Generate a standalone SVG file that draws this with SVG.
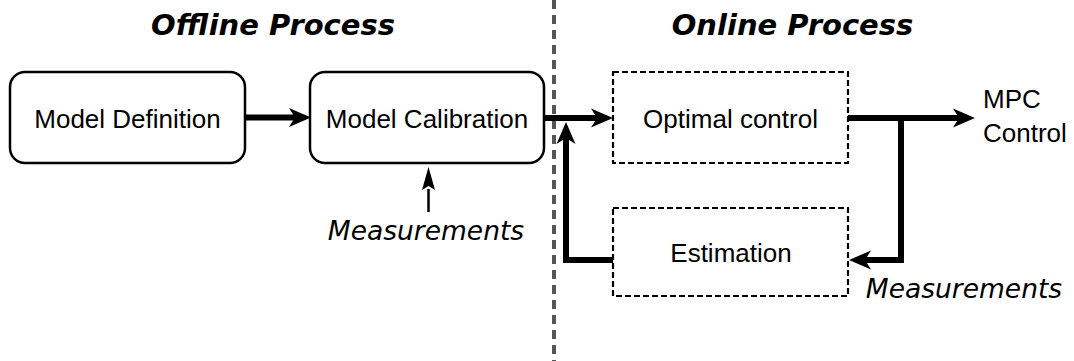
<svg xmlns="http://www.w3.org/2000/svg" width="1074" height="361" viewBox="0 0 1074 361">
  <style>
    .title { font-family: "DejaVu Sans", sans-serif; font-weight: bold; font-style: italic; font-size: 29px; fill: #000; text-anchor: middle; }
    .lbl { font-family: "Liberation Sans", Arial, sans-serif; font-size: 26px; fill: #000; text-anchor: middle; }
    .lbl-l { font-family: "Liberation Sans", Arial, sans-serif; font-size: 26px; fill: #000; }
    .meas { font-family: "DejaVu Sans", sans-serif; font-style: italic; font-size: 26.5px; fill: #000; text-anchor: middle; }
    .rbox { fill: #fff; stroke: #000; stroke-width: 2.5; }
    .dbox { fill: #fff; stroke: #000; stroke-width: 2.2; stroke-dasharray: 6 3; }
    .thick { fill: none; stroke: #000; stroke-width: 6; stroke-linejoin: miter; }
    .thin { fill: none; stroke: #000; stroke-width: 2.5; }
    .divider { stroke: #555; stroke-width: 4; stroke-dasharray: 9 6; }
  </style>
  <defs>
    <marker id="ah" markerUnits="userSpaceOnUse" viewBox="-8 -11 26 22" refX="0" refY="0" markerWidth="26" markerHeight="22" orient="auto" overflow="visible">
      <path d="M15,0 L-7,-9.5 L-1,0 L-7,9.5 Z" fill="#000"/>
    </marker>
    <marker id="ahs" markerUnits="userSpaceOnUse" viewBox="-2 -8 28 16" refX="0" refY="0" markerWidth="28" markerHeight="16" orient="auto" overflow="visible">
      <path d="M22,0 L-1,-6.5 L3,0 L-1,6.5 Z" fill="#000"/>
    </marker>
  </defs>

  <rect width="1074" height="361" fill="#fff"/>

  <line class="divider" x1="554" y1="0" x2="554" y2="361"/>

  <text class="title" x="273" y="35">Offline Process</text>
  <text class="title" x="792.5" y="35">Online Process</text>

  <g id="connectors">
    <line class="thick" x1="245" y1="117.5" x2="296" y2="117.5" marker-end="url(#ah)"/>
    <line class="thick" x1="544" y1="118" x2="598" y2="118" marker-end="url(#ah)"/>
    <line class="thick" x1="848" y1="118" x2="960" y2="118" marker-end="url(#ah)"/>
    <path class="thick" d="M901,118 V260 H864" marker-end="url(#ah)"/>
    <path class="thick" d="M613,260 H566 V137" marker-end="url(#ah)"/>
    <line class="thin" x1="428.5" y1="212" x2="428.5" y2="189" marker-end="url(#ahs)"/>
  </g>

  <g id="model-definition">
    <rect class="rbox" x="10" y="72" width="235" height="91" rx="15" ry="15"/>
    <text class="lbl" x="127.5" y="127.5">Model Definition</text>
  </g>

  <g id="model-calibration">
    <rect class="rbox" x="310" y="72" width="234" height="91" rx="15" ry="15"/>
    <text class="lbl" x="427" y="127.5">Model Calibration</text>
  </g>

  <g id="optimal-control">
    <rect class="dbox" x="613" y="72" width="235" height="91"/>
    <text class="lbl" x="730.5" y="127.5">Optimal control</text>
  </g>

  <g id="estimation">
    <rect class="dbox" x="613" y="208" width="235" height="88"/>
    <text class="lbl" x="731" y="262">Estimation</text>
  </g>

  <g id="mpc-control">
    <text class="lbl-l" x="983" y="108">MPC</text>
    <text class="lbl-l" x="983" y="142">Control</text>
  </g>

  <g id="measurements-offline">
    <text class="meas" x="426" y="240">Measurements</text>
  </g>

  <g id="measurements-online">
    <text class="meas" x="964" y="298">Measurements</text>
  </g>
</svg>
